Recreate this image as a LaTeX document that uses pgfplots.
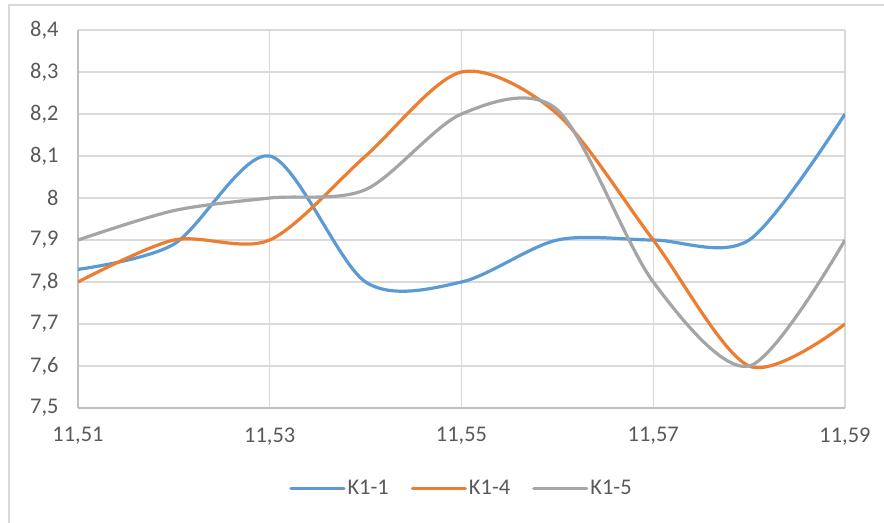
\documentclass[border=0pt]{standalone}
\usepackage{pgfplots}
\pgfplotsset{compat=1.18}
\usepackage{fontspec}
\setmainfont{Carlito}
\definecolor{cblue}{HTML}{5B9BD5}
\definecolor{corange}{HTML}{ED7D31}
\definecolor{cgray}{HTML}{A5A5A5}
\definecolor{gridc}{HTML}{D9D9D9}
\definecolor{axisc}{HTML}{BFBFBF}
\definecolor{txt}{HTML}{595959}
\begin{document}
\begin{tikzpicture}
\path[use as bounding box] (0,0) rectangle (884bp,523bp);
\draw[gridc, line width=1.2bp] (9bp,0) -- (9bp,518bp) -- (884bp,518bp);
\begin{axis}[
  at={(78bp,115bp)}, anchor=south west,
  scale only axis, width=767bp, height=378bp,
  xmin=11.51, xmax=11.59, ymin=7.5, ymax=8.4,
  enlargelimits=false,
  xtick={11.51,11.53,11.55,11.57,11.59},
  xticklabels={11{,}51,11{,}53,11{,}55,11{,}57,11{,}59},
  ytick={7.5,7.6,7.7,7.8,7.9,8.0,8.1,8.2,8.3,8.4},
  yticklabels={7{,}5,7{,}6,7{,}7,7{,}8,7{,}9,8,8{,}1,8{,}2,8{,}3,8{,}4},
  major tick length=0pt,
  grid=major,
  grid style={gridc, line width=1.2bp},
  axis line style={axisc, line width=1.2bp},
  axis x line*=bottom, axis y line*=left,
  tick label style={font=\fontsize{22.5}{26}\selectfont, text=txt},
  yticklabel style={xshift=-16bp},
  xticklabel style={yshift=-16bp},
  legend style={at={(0.5,-0.18)}, anchor=north, draw=none, fill=none,
    legend columns=3, font=\fontsize{22.5}{26}\selectfont, text=txt,
    /tikz/every even column/.append style={column sep=20bp}},
  legend image code/.code={\draw[#1, line cap=round] (0bp,0bp) -- (53bp,0bp);},
  every axis plot/.append style={line width=3.2bp, smooth, tension=0.5, no markers},
]
\addplot[cblue] coordinates {
  (11.51,7.83) (11.52,7.89) (11.53,8.1) (11.54,7.8) (11.55,7.8)
  (11.56,7.9) (11.57,7.9) (11.58,7.9) (11.59,8.2)};
\addlegendentry{K1-1}
\addplot[corange] coordinates {
  (11.51,7.8) (11.52,7.9) (11.53,7.9) (11.54,8.1) (11.55,8.3)
  (11.56,8.2) (11.57,7.9) (11.58,7.6) (11.59,7.7)};
\addlegendentry{K1-4}
\addplot[cgray] coordinates {
  (11.51,7.9) (11.52,7.97) (11.53,8.0) (11.54,8.02) (11.55,8.2)
  (11.56,8.21) (11.57,7.8) (11.58,7.6) (11.59,7.9)};
\addlegendentry{K1-5}
\end{axis}
\end{tikzpicture}
\end{document}
